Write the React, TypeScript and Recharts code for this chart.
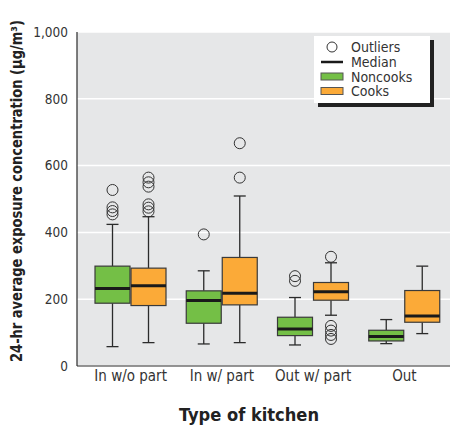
import { ComposedChart, Bar, XAxis, YAxis, CartesianGrid } from "recharts";

const categories = ["In w/o part", "In w/ part", "Out w/ part", "Out"];

const noncooksLow = [58, 66, 63, 67];
const noncooksQ1 = [188, 128, 91, 75];
const noncooksMedian = [232, 196, 111, 88];
const noncooksQ3 = [299, 225, 146, 107];
const noncooksHigh = [424, 285, 205, 139];
const noncooksOutliers = [[527, 475, 464, 454], [394], [269, 255], []];

const cooksLow = [70, 70, 152, 97];
const cooksQ1 = [181, 183, 197, 131];
const cooksMedian = [240, 218, 222, 150];
const cooksQ3 = [293, 325, 250, 226];
const cooksHigh = [447, 509, 309, 299];
const cooksOutliers = [[564, 550, 537, 484, 474, 463], [667, 564], [327, 120, 106, 93, 81], []];

const yTicks = [0, 200, 400, 600, 800, 1000];
const legendLabels = ["Outliers", "Median", "Noncooks", "Cooks"];

const FONT = "'Liberation Sans Narrow', 'DejaVu Sans Condensed', 'Arial Narrow', sans-serif";
const GREEN = "#74bf46";
const ORANGE = "#fbaa38";
const INK = "#2b2b2b";

const data = categories.map((category, i) => ({
  category,
  non: { low: noncooksLow[i], q1: noncooksQ1[i], med: noncooksMedian[i], q3: noncooksQ3[i], high: noncooksHigh[i], out: noncooksOutliers[i] },
  cook: { low: cooksLow[i], q1: cooksQ1[i], med: cooksMedian[i], q3: cooksQ3[i], high: cooksHigh[i], out: cooksOutliers[i] },
  nonRange: [noncooksLow[i], noncooksHigh[i]],
  cookRange: [cooksLow[i], cooksHigh[i]],
}));

// draws one whole box from the range bar's own pixel span (low..high)
const BoxShape = (props: any) => {
  const { x, y, width, height, payload, series, color } = props;
  const s = payload[series];
  const top = Math.min(y, y + height);
  const h = Math.abs(height);
  const toY = (v: number) => top + (h * (s.high - v)) / (s.high - s.low);
  const cx = x + width / 2;
  const cap = 6;
  return (
    <g>
      <line x1={cx} x2={cx} y1={toY(s.high)} y2={toY(s.q3)} stroke={INK} strokeWidth={1.3} />
      <line x1={cx} x2={cx} y1={toY(s.q1)} y2={toY(s.low)} stroke={INK} strokeWidth={1.3} />
      <line x1={cx - cap} x2={cx + cap} y1={toY(s.high)} y2={toY(s.high)} stroke={INK} strokeWidth={1.3} />
      <line x1={cx - cap} x2={cx + cap} y1={toY(s.low)} y2={toY(s.low)} stroke={INK} strokeWidth={1.3} />
      <rect x={x} y={toY(s.q3)} width={width} height={toY(s.q1) - toY(s.q3)} fill={color} stroke="#3a3a3a" strokeWidth={1.2} />
      <line x1={x} x2={x + width} y1={toY(s.med)} y2={toY(s.med)} stroke="#1a1a1a" strokeWidth={3} />
      {s.out.map((v: number, k: number) => (
        <circle key={k} cx={cx} cy={toY(v)} r={5.5} fill="none" stroke="#333" strokeWidth={1} />
      ))}
    </g>
  );
};

const YTitle = (props: any) => {
  const vb = props.viewBox || { x: 0, y: 0, height: 0 };
  const cx = vb.x + 17;
  const cy = vb.y + vb.height / 2 - 8;
  return (
    <text x={cx} y={cy} transform={`rotate(-90 ${cx} ${cy})`} textAnchor="middle" dominantBaseline="central"
      fontFamily={FONT} fontWeight="bold" fontSize={15} fill="#222" textLength={342} lengthAdjust="spacingAndGlyphs">
      24-hr average exposure concentration (μg/m³)
    </text>
  );
};

const XTitle = (props: any) => {
  const vb = props.viewBox || { x: 0, y: 0, width: 0 };
  return (
    <text x={249} y={vb.y + 55} textAnchor="middle" fontFamily={FONT} fontWeight="bold" fontSize={18} fill="#222"
      textLength={140} lengthAdjust="spacingAndGlyphs">
      Type of kitchen
    </text>
  );
};

const LegendBox = () => {
  const x0 = 314, y0 = 36, w = 116, h = 67;
  const rowY = [47, 62, 76.5, 91];
  return (
    <g>
      <rect x={x0 + 4} y={y0 + 4} width={w} height={h} fill="#222" />
      <rect x={x0} y={y0} width={w} height={h} fill="#fff" />
      <circle cx={332} cy={rowY[0]} r={5} fill="none" stroke="#333" strokeWidth={1} />
      <line x1={321} x2={343} y1={rowY[1]} y2={rowY[1]} stroke="#1a1a1a" strokeWidth={2.5} />
      <rect x={321} y={rowY[2] - 3.5} width={22} height={7} fill={GREEN} stroke="#555" strokeWidth={1} />
      <rect x={321} y={rowY[3] - 3.5} width={22} height={7} fill={ORANGE} stroke="#555" strokeWidth={1} />
      {legendLabels.map((t, i) => (
        <text key={t} x={351} y={rowY[i] + 5} fontFamily={FONT} fontSize={14} fill="#333">
          {t}
        </text>
      ))}
    </g>
  );
};

export default function App() {
  return (
    <div style={{ position: "absolute", left: 0, top: 0, background: "#fff" }}>
      <ComposedChart width={453} height={426} data={data} margin={{ top: 32, right: 3, bottom: 30, left: 0 }}
        barSize={35} barGap={1}>
        <CartesianGrid vertical={false} fill="#e6e7e8" stroke="#fff" strokeWidth={1.5} />
        <XAxis dataKey="category" padding={{ left: 8, right: 0 }} tickLine={false} tickSize={2} tickMargin={2}
          axisLine={{ stroke: INK, strokeWidth: 1.2 }} height={30}
          tick={{ fontFamily: FONT, fontSize: 15, fill: "#333" }} label={<XTitle />} />
        <YAxis domain={[0, 1000]} ticks={yTicks} width={77} tickLine={false} tickSize={6} tickMargin={3}
          axisLine={{ stroke: INK, strokeWidth: 1.2 }} tickFormatter={(v: number) => v.toLocaleString("en-US")}
          tick={{ fontFamily: FONT, fontSize: 13.5, fill: "#333" }} label={<YTitle />} />
        <Bar dataKey="nonRange" name="Noncooks" fill={GREEN} isAnimationActive={false}
          shape={(p: any) => <BoxShape {...p} series="non" color={GREEN} />} />
        <Bar dataKey="cookRange" name="Cooks" fill={ORANGE} isAnimationActive={false}
          shape={(p: any) => <BoxShape {...p} series="cook" color={ORANGE} />} />
        <LegendBox />
      </ComposedChart>
    </div>
  );
}
